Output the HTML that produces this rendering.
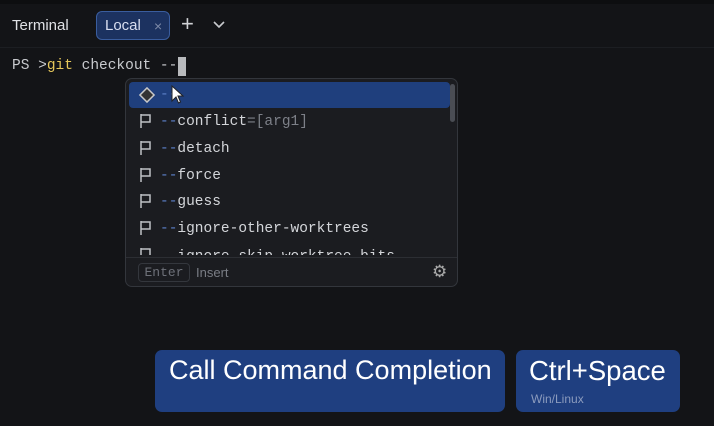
<!DOCTYPE html>
<html><head><style>
body{margin:0;width:714px;height:426px;background:#131417;position:relative;overflow:hidden;font-family:"Liberation Sans",sans-serif}
.a{position:absolute}
.m{font-family:"Liberation Mono",monospace;font-size:14.5px;white-space:pre}
.d{color:#5b7fc7}
.t{color:#d4d6da}
</style></head><body>
<div class="a" style="left:0;top:0;width:714px;height:4px;background:#0d0e10"></div>
<div class="a" style="left:0;top:47px;width:714px;height:1px;background:#1c1e22"></div>
<div class="a" style="left:12px;top:17px;color:#dfe1e5;font-size:15px">Terminal</div>
<div class="a" style="left:96px;top:11px;width:74px;height:29px;box-sizing:border-box;border:1px solid #3a5d9e;background:#1c3260;border-radius:6px"></div>
<div class="a" style="left:105px;top:17px;color:#d8def0;font-size:15px">Local</div>
<div class="a" style="left:154px;top:18px;color:#7d8aa8;font-size:14px">×</div>
<div class="a" style="left:181px;top:11px;color:#d0d2d6;font-size:22px">+</div>
<svg class="a" style="left:212px;top:20px" width="14" height="10"><path d="M2 2l5 5 5-5" stroke="#c8cace" stroke-width="1.6" fill="none"/></svg>
<div class="a m" style="left:12px;top:58px;color:#c9cbcf">PS &gt;<span style="color:#e6c75a">git</span> checkout --</div>
<div class="a" style="left:178px;top:57px;width:8px;height:19px;background:#b8babd"></div>
<div class="a" style="left:125px;top:78px;width:333px;height:209px;box-sizing:border-box;border:1px solid #33363c;background:#1b1c20;border-radius:7px">
 <div class="a" style="left:3px;top:3px;width:321px;height:26px;background:#1f3f7d;border-radius:4px"></div>
 <div class="a" style="left:324px;top:5px;width:5px;height:38px;background:#4a4d54;border-radius:3px"></div>
 <div class="a" style="left:0;top:178px;width:331px;height:1px;background:#2c2e33"></div>
 <svg class="a" style="left:12px;top:7px" width="18" height="18"><rect x="4" y="4" width="10" height="10" transform="rotate(45 9 9)" fill="#333" stroke="#c8c8c8" stroke-width="1.5"/></svg>
 <div class="a m d" style="left:34px;top:3px;line-height:26px">--</div>
 <svg class="a" style="left:45px;top:6px" width="14" height="20"><path d="M1 1v15l4-4 2.5 6 2-1-2.5-6h5z" fill="#fff" stroke="#222"/></svg>
 <svg class="a" style="left:12px;top:30px" width="20" height="146">
  <g fill="none" stroke="#bfc1c5" stroke-width="1.5">
   <path d="M3 5v14M3 6h9v7h-9"/>
   <path d="M3 32v14M3 33h9v7h-9"/>
   <path d="M3 59v14M3 60h9v7h-9"/>
   <path d="M3 85v14M3 86h9v7h-9"/>
   <path d="M3 112v14M3 113h9v7h-9"/>
   <path d="M3 139v14M3 140h9v7h-9"/>
  </g>
 </svg>
 <div class="a m" style="left:34px;top:30px;line-height:26px"><span class="d">--</span><span class="t">conflict</span><span style="color:#7d8088">=[arg1]</span></div>
 <div class="a m" style="left:34px;top:57px;line-height:26px"><span class="d">--</span><span class="t">detach</span></div>
 <div class="a m" style="left:34px;top:84px;line-height:26px"><span class="d">--</span><span class="t">force</span></div>
 <div class="a m" style="left:34px;top:110px;line-height:26px"><span class="d">--</span><span class="t">guess</span></div>
 <div class="a m" style="left:34px;top:137px;line-height:26px"><span class="d">--</span><span class="t">ignore-other-worktrees</span></div>
 <div class="a" style="left:34px;top:168px;width:290px;height:8px;overflow:hidden"><div class="m" style="line-height:26px;margin-top:-3px"><span class="d">--</span><span class="t">ignore-skip-worktree-bits</span></div></div>
 <div class="a m" style="left:12px;top:184px;width:52px;height:19px;box-sizing:border-box;border:1px solid #34373d;border-radius:4px;font-size:13px;color:#6e7179;line-height:17px;text-align:center">Enter</div>
 <div class="a" style="left:70px;top:186px;color:#7a7d85;font-size:13px">Insert</div>
 <div class="a" style="left:306px;top:183px;color:#aaa;font-size:17px">⚙</div>
</div>
<div class="a" style="left:155px;top:350px;width:350px;height:62px;background:#1f3f80;border-radius:7px"></div>
<div class="a" style="left:169px;top:355px;color:#fff;font-size:27px">Call Command Completion</div>
<div class="a" style="left:516px;top:350px;width:164px;height:62px;background:#1f3f80;border-radius:7px"></div>
<div class="a" style="left:529px;top:355px;color:#fff;font-size:27.5px">Ctrl+Space</div>
<div class="a" style="left:531px;top:392px;color:#8b9bbd;font-size:12px">Win/Linux</div>
</body></html>
